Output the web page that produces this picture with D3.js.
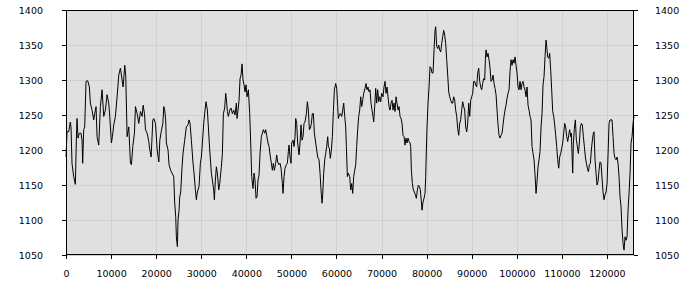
<!DOCTYPE html>
<html lang="en">
<head>
<meta charset="utf-8">
<title>Line chart</title>
<script src="https://cdn.jsdelivr.net/npm/d3@7"></script>
<style>
    body { margin: 0; background: #fff; }
    text { font-family: "DejaVu Sans", sans-serif; font-size: 9.5px; fill: #000; }
</style>
</head>
<body>
<script>
// sample positions (x) and readings (y)
var xValues = [
    0, 222, 593, 963, 1111, 1333, 1704, 2074, 2296, 2444, 2667, 2963, 3333, 3556, 3704, 3926, 4148, 4444, 4815, 5185,
    5407, 5778, 6148, 6370, 6667, 6889, 7259, 7630, 8000, 8370, 8741, 9111, 9481, 9704, 10074, 10296, 10593, 10963, 11333, 11704,
    12074, 12444, 12667, 13037, 13259, 13556, 13926, 14296, 14519, 14815, 15185, 15407, 15778, 16148, 16519, 16889, 17111, 17407, 17630, 18000,
    18370, 18593, 18889, 19259, 19481, 19852, 20222, 20593, 20815, 21111, 21481, 21704,
    21895, 22117, 22265, 22635, 22857, 23226, 23522, 23892, 24114, 24336, 24484, 24705, 24853, 25075, 25223, 25445, 25741, 25963,
    26332, 26702, 27072, 27294, 27515, 27811, 28181, 28403, 28699, 28921, 29142, 29512, 29808, 30030, 30252, 30547, 30843, 31065,
    31361, 31583, 31879, 32248, 32470, 32766, 32914, 33136, 33358, 33579, 33875, 34097, 34467, 34689, 34911, 35206, 35428, 35650,
    35798, 36020, 36316, 36612, 36907, 37203, 37499, 37795, 37942, 38164, 38386, 38608, 38830, 39052, 39274, 39496, 39717, 39939,
    40161, 40457, 40753, 40974, 41196, 41492, 41714, 41936, 42158, 42380, 42601, 42823,
    43042, 43338, 43560, 43782, 44078, 44300, 44521, 44817, 45039, 45335, 45557, 45779, 46000, 46222, 46518, 46740, 46962, 47258,
    47479, 47701, 47997, 48145, 48367, 48589, 48884, 49106, 49328, 49476, 49698, 49920, 50068, 50363, 50585, 50807, 50955, 51177,
    51399, 51695, 51916, 52138, 52360, 52582, 52804, 53025, 53321, 53543, 53765, 53987, 54209, 54430, 54652, 54874, 55096, 55392,
    55614, 55835, 56131, 56353, 56575, 56797, 56945, 57167, 57389, 57611, 57832, 58054, 58202, 58424, 58646, 58868, 59090, 59311,
    59533, 59829, 60051, 60273, 60421, 60642, 60864, 61160, 61382, 61604, 61826, 62048, 62195, 62417, 62639, 62935, 63157, 63378,
    63600, 63822, 64044, 64266,
    64485, 64707, 64929, 65151, 65373, 65595, 65816, 66038, 66334, 66556, 66778, 66999, 67221, 67443, 67665, 67887, 68109, 68257,
    68479, 68700, 68922, 69144, 69366, 69588, 69810, 70032, 70327, 70549, 70771, 70993, 71215, 71437, 71658, 71880, 72102, 72324,
    72546, 72768, 72990, 73211, 73433, 73655, 73877, 74099, 74321, 74542, 74764, 74986, 75208, 75430, 75652, 75874, 76095, 76317,
    76465, 76613, 76835, 77057, 77278, 77500, 77722, 77944, 78166, 78388, 78610, 78832, 78979, 79201, 79423, 79645, 79793, 79941,
    80089, 80311, 80532, 80754, 80976, 81198, 81420, 81642, 81864, 82011, 82233, 82455, 82677, 82899, 83121, 83343, 83565, 83786,
    84008, 84230, 84452, 84674, 84896, 85117, 85339, 85561,
    85781, 86003, 86225, 86447, 86669, 86891, 87112, 87334, 87556, 87778, 88000, 88222, 88443, 88665, 88887, 89109, 89331, 89553,
    89775, 89996, 90218, 90440, 90662, 90884, 91106, 91328, 91549, 91771, 91993, 92215, 92437, 92659, 92880, 93028, 93176, 93398,
    93620, 93842, 94064, 94286, 94507, 94729, 94951, 95173, 95395, 95617, 95838, 96060, 96282, 96504, 96726, 96948, 97170, 97391,
    97613, 97835, 98057, 98279, 98501, 98723, 98944, 99166, 99388, 99610, 99832, 100054, 100275, 100497, 100719, 100941, 101163, 101385,
    101607, 101828, 102050, 102272, 102494, 102716, 102938, 103160, 103381, 103603, 103825, 103973, 104121, 104269, 104491, 104713, 104934, 105156,
    105378, 105600, 105822, 106044, 106266, 106487, 106709,
    106855, 107077, 107299, 107520, 107742, 107964, 108186, 108408, 108630, 108851, 109073, 109295, 109517, 109739, 109961, 110183, 110404, 110626,
    110848, 111070, 111292, 111514, 111736, 111957, 112105, 112253, 112401, 112549, 112771, 112993, 113215, 113436, 113658, 113880, 114102, 114324,
    114546, 114767, 114989, 115211, 115433, 115655, 115877, 116099, 116320, 116542, 116764, 116986, 117134, 117356, 117578, 117799, 118021, 118243,
    118465, 118687, 118909, 119131, 119352, 119574, 119796, 120018, 120240, 120462, 120683, 120905, 121127, 121349, 121571, 121793, 122015, 122236,
    122458, 122680, 122902, 123124, 123346, 123568, 123790, 124011, 124233, 124455, 124677, 124899, 125121, 125342, 125564, 125786, 126000
];
var yValues = [
    1190, 1226, 1226, 1240, 1233, 1181, 1162, 1151, 1214, 1245, 1217, 1224, 1224, 1214, 1181, 1229, 1233, 1298, 1299, 1290,
    1267, 1257, 1243, 1252, 1262, 1219, 1207, 1262, 1286, 1248, 1257, 1279, 1267, 1248, 1210, 1219, 1236, 1248, 1276, 1307,
    1317, 1300, 1290, 1321, 1305, 1219, 1233, 1181, 1179, 1205, 1224, 1262, 1252, 1238, 1255, 1248, 1264, 1252, 1229, 1224,
    1212, 1200, 1190, 1243, 1245, 1238, 1200, 1183, 1214, 1226, 1238, 1262,
    1257, 1243, 1210, 1200, 1179, 1171, 1167, 1162, 1124, 1105, 1076, 1062, 1100, 1114, 1133, 1140, 1176, 1195,
    1214, 1233, 1236, 1243, 1238, 1214, 1181, 1167, 1143, 1129, 1140, 1148, 1181, 1190, 1210, 1238, 1257, 1269,
    1257, 1233, 1200, 1167, 1157, 1143, 1129, 1157, 1176, 1167, 1143, 1152, 1176, 1195, 1252, 1260, 1281, 1267,
    1255, 1248, 1257, 1260, 1252, 1257, 1250, 1267, 1245, 1257, 1271, 1302, 1307, 1323, 1300, 1293, 1283, 1293,
    1276, 1286, 1252, 1210, 1162, 1145, 1167, 1157, 1131, 1133, 1157, 1164,
    1195, 1219, 1224, 1229, 1224, 1229, 1221, 1210, 1205, 1190, 1181, 1171, 1181, 1171, 1181, 1193, 1183, 1179,
    1181, 1174, 1152, 1138, 1162, 1174, 1179, 1181, 1198, 1207, 1190, 1181, 1210, 1214, 1205, 1219, 1245, 1238,
    1210, 1193, 1210, 1236, 1214, 1219, 1238, 1240, 1252, 1269, 1257, 1229, 1231, 1238, 1252, 1252, 1224, 1210,
    1200, 1190, 1186, 1167, 1143, 1124, 1136, 1167, 1186, 1195, 1205, 1219, 1205, 1202, 1188, 1200, 1219, 1255,
    1286, 1295, 1288, 1262, 1245, 1250, 1252, 1248, 1257, 1267, 1248, 1233, 1205, 1162, 1167, 1162, 1143, 1152,
    1138, 1162, 1171, 1179,
    1205, 1229, 1248, 1257, 1276, 1262, 1271, 1281, 1288, 1295, 1286, 1290, 1283, 1286, 1267, 1257, 1248, 1240,
    1262, 1288, 1267, 1286, 1269, 1276, 1269, 1281, 1276, 1290, 1298, 1281, 1290, 1276, 1262, 1257, 1267, 1271,
    1257, 1267, 1255, 1276, 1267, 1257, 1262, 1248, 1245, 1238, 1221, 1219, 1207, 1217, 1210, 1217, 1212, 1210,
    1205, 1171, 1152, 1143, 1140, 1136, 1131, 1143, 1150, 1148, 1143, 1126, 1114, 1126, 1131, 1138, 1162, 1200,
    1233, 1267, 1290, 1319, 1317, 1310, 1310, 1343, 1371, 1376, 1348, 1345, 1350, 1343, 1340, 1352, 1362, 1371,
    1364, 1352, 1329, 1307, 1283, 1276, 1271, 1267,
    1267, 1276, 1271, 1257, 1248, 1231, 1221, 1238, 1243, 1257, 1269, 1262, 1257, 1233, 1226, 1238, 1267, 1248,
    1271, 1276, 1281, 1298, 1298, 1293, 1290, 1310, 1317, 1298, 1290, 1286, 1295, 1302, 1300, 1329, 1343, 1333,
    1338, 1329, 1317, 1298, 1300, 1307, 1295, 1288, 1279, 1257, 1236, 1221, 1217, 1221, 1224, 1236, 1248, 1257,
    1264, 1274, 1281, 1286, 1312, 1329, 1321, 1329, 1324, 1333, 1321, 1310, 1290, 1286, 1298, 1286, 1295, 1298,
    1290, 1286, 1276, 1290, 1264, 1257, 1248, 1243, 1205, 1195, 1186, 1171, 1157, 1138, 1155, 1176, 1186, 1198,
    1233, 1252, 1293, 1305, 1333, 1357, 1343,
    1333, 1331, 1338, 1314, 1286, 1255, 1248, 1236, 1221, 1205, 1186, 1174, 1190, 1195, 1202, 1210, 1224, 1238,
    1233, 1219, 1212, 1221, 1229, 1219, 1224, 1195, 1167, 1210, 1231, 1243, 1214, 1205, 1195, 1210, 1233, 1238,
    1236, 1219, 1205, 1190, 1181, 1174, 1169, 1179, 1181, 1200, 1214, 1224, 1226, 1186, 1167, 1150, 1155, 1171,
    1183, 1181, 1160, 1140, 1129, 1136, 1140, 1152, 1193, 1238, 1243, 1243, 1243, 1219, 1195, 1188, 1186, 1190,
    1181, 1162, 1133, 1119, 1086, 1067, 1057, 1076, 1071, 1076, 1114, 1138, 1167, 1210, 1219, 1238, 1248
];
var xTicks = [0, 10000, 20000, 30000, 40000, 50000, 60000, 70000, 80000, 90000, 100000, 110000, 120000];
var yTicks = [1050, 1100, 1150, 1200, 1250, 1300, 1350, 1400];

var points = xValues.map(function (x, i) { return {x: x, y: yValues[i]}; });

var w = 700, h = 300;
var marginLeft = 66, marginTop = 10, width = 568, height = 245;

var svg = d3.select("body").append("svg")
    .attr("width", w)
    .attr("height", h);

var xScale = d3.scaleLinear().domain([0, 126000]).range([0, width]);
var yScale = d3.scaleLinear().domain([1050, 1400]).range([height, 0]);

var g = svg.append("g").attr("transform", "translate(" + marginLeft + "," + marginTop + ")");

g.append("rect")
    .attr("width", width)
    .attr("height", height)
    .attr("fill", "#e0e0e0");

// grid
g.append("g")
    .attr("class", "grid")
    .attr("transform", "translate(0," + height + ")")
    .call(d3.axisBottom(xScale).tickValues(xTicks).tickSize(-height).tickFormat(""));
g.append("g")
    .attr("class", "grid")
    .call(d3.axisLeft(yScale).tickValues(yTicks).tickSize(-width).tickFormat(""));
g.selectAll(".grid .domain").remove();
g.selectAll(".grid line").attr("stroke", "#d0d0d0").attr("shape-rendering", "crispEdges");

// line
g.append("path")
    .datum(points)
    .attr("fill", "none")
    .attr("stroke", "#000")
    .attr("stroke-width", 1)
    .attr("d", d3.line()
        .x(function (d) { return xScale(d.x); })
        .y(function (d) { return yScale(d.y); }));

// axes
var xAxis = g.append("g")
    .attr("transform", "translate(0," + height + ")")
    .call(d3.axisBottom(xScale).tickValues(xTicks).tickSize(4).tickPadding(11).tickFormat(d3.format("d")));
var yAxisL = g.append("g")
    .call(d3.axisLeft(yScale).tickValues(yTicks).tickSize(4).tickPadding(19).tickFormat(d3.format("d")));
var yAxisR = g.append("g")
    .attr("transform", "translate(" + width + ",0)")
    .call(d3.axisRight(yScale).tickValues(yTicks).tickSize(4).tickPadding(17).tickFormat(d3.format("d")));

[xAxis, yAxisL, yAxisR].forEach(function (a) {
    a.select(".domain").remove();
    a.selectAll("line").attr("stroke", "#000").attr("shape-rendering", "crispEdges");
    a.selectAll("text").attr("font-family", null).attr("font-size", null);
});

// frame
g.append("rect")
    .attr("x", 0.5)
    .attr("y", 0.5)
    .attr("width", width - 1)
    .attr("height", height - 1)
    .attr("fill", "none")
    .attr("stroke", "#000");
</script>
</body>
</html>
